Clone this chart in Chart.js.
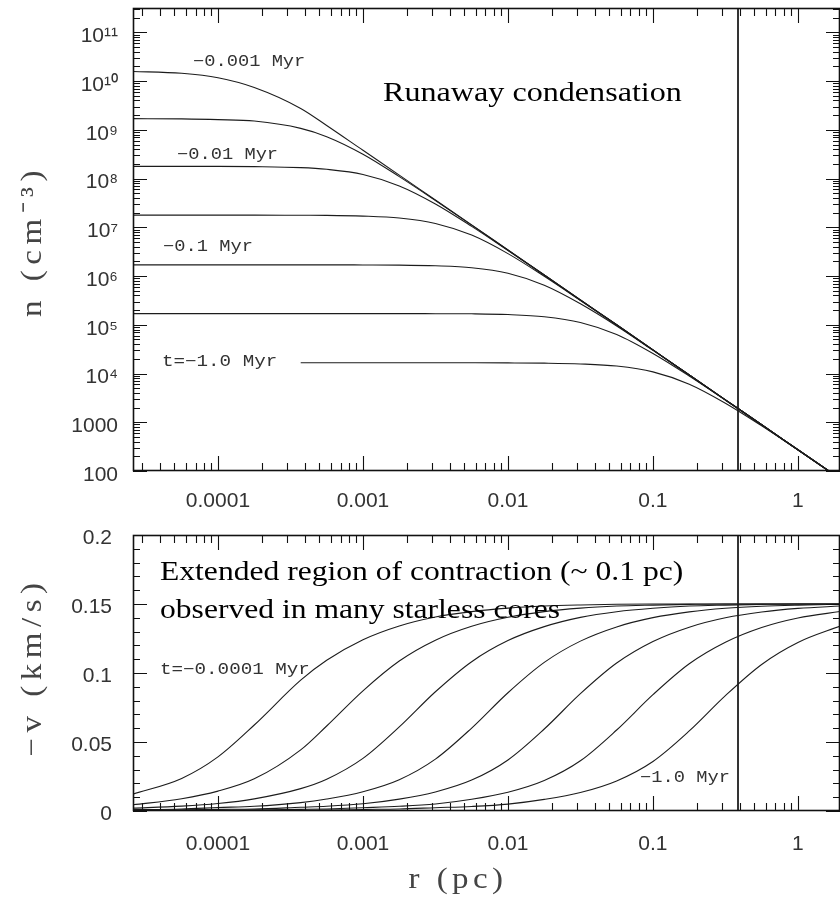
<!DOCTYPE html>
<html>
<head>
<meta charset="utf-8">
<script src="https://cdn.jsdelivr.net/npm/chart.js@4.4.1/dist/chart.umd.min.js"></script>
<style>
  html, body { margin: 0; padding: 0; background: #fff; }
  #wrap { position: relative; width: 840px; height: 900px; }
  #densityChart { position: absolute; left: 0; top: 0; }
  #velocityChart { position: absolute; left: 0; top: 520px; }
</style>
</head>
<body>
<div id="wrap">
  <canvas id="densityChart" width="840" height="520"></canvas>
  <canvas id="velocityChart" width="840" height="380"></canvas>
</div>
<script>
// Radial sample points (pc), shared by every profile
const radius = [2.51e-5, 5.62e-5, 1.0e-4, 1.78e-4, 3.72e-4, 5.62e-4, 1.0e-3, 1.78e-3, 3.16e-3, 5.62e-3,
                0.01, 0.0178, 0.0316, 0.0562, 0.1, 0.178, 0.316, 0.562, 1.0, 2.0];

// log10 of number density n (cm^-3), one profile per epoch (latest first)
const logDensity1 = [10.20, 10.16, 10.07, 9.87, 9.44, 9.09, 8.58, 8.07, 7.56, 7.05, 6.535, 6.02, 5.51, 5.00, 4.485, 3.97, 3.46, 2.95, 2.435, 1.82];
const logDensity2 = [9.23, 9.225, 9.21, 9.18, 9.03, 8.86, 8.50, 8.04, 7.55, 7.045, 6.535, 6.02, 5.51, 5.00, 4.485, 3.97, 3.46, 2.95, 2.435, 1.82];
const logDensity3 = [8.25, 8.25, 8.25, 8.245, 8.225, 8.19, 8.085, 7.85, 7.48, 7.02, 6.525, 6.02, 5.51, 5.00, 4.485, 3.97, 3.46, 2.95, 2.435, 1.82];
const logDensity4 = [7.25, 7.25, 7.25, 7.25, 7.247, 7.245, 7.23, 7.19, 7.08, 6.84, 6.46, 5.995, 5.50, 4.995, 4.485, 3.97, 3.46, 2.95, 2.435, 1.82];
const logDensity5 = [6.23, 6.23, 6.23, 6.23, 6.23, 6.23, 6.228, 6.225, 6.21, 6.17, 6.056, 5.81, 5.43, 4.975, 4.477, 3.97, 3.46, 2.95, 2.435, 1.82];
const logDensity6 = [5.23, 5.23, 5.23, 5.23, 5.23, 5.23, 5.23, 5.23, 5.228, 5.225, 5.21, 5.165, 5.047, 4.80, 4.41, 3.947, 3.453, 2.948, 2.435, 1.82];
const logDensity7 = [null, null, null, null, 4.22, 4.22, 4.22, 4.22, 4.22, 4.22, 4.218, 4.213, 4.197, 4.153, 4.034, 3.78, 3.39, 2.926, 2.43, 1.82];

// Infall speed -v (km/s), one profile per epoch (t = -0.0001 Myr first, -1.0 Myr last)
const velocity1 = [0.0118, 0.0236, 0.0392, 0.0623, 0.0948, 0.1092, 0.1241, 0.1341, 0.1406, 0.1445, 0.147, 0.1485, 0.1493, 0.1498, 0.15, 0.15, 0.15, 0.15, 0.15, 0.15];
const velocity2 = [0.0043, 0.0089, 0.0144, 0.0233, 0.0443, 0.0616, 0.0871, 0.1087, 0.1238, 0.1339, 0.1404, 0.1445, 0.147, 0.1485, 0.1492, 0.1497, 0.15, 0.15, 0.15, 0.15];
const velocity3 = [0.002, 0.0035, 0.0054, 0.0088, 0.0162, 0.023, 0.0381, 0.0609, 0.0864, 0.1082, 0.1235, 0.1336, 0.1403, 0.1444, 0.1469, 0.1485, 0.1492, 0.1497, 0.15, 0.15];
const velocity4 = [0.001, 0.0015, 0.0025, 0.0034, 0.0061, 0.0087, 0.014, 0.0227, 0.0376, 0.0601, 0.0857, 0.1077, 0.1231, 0.1334, 0.1401, 0.1443, 0.1469, 0.1484, 0.1492, 0.1498];
const velocity5 = [0.0005, 0.0008, 0.0012, 0.0015, 0.0027, 0.0034, 0.0052, 0.0086, 0.0138, 0.0224, 0.037, 0.0594, 0.085, 0.1072, 0.1228, 0.1332, 0.14, 0.1442, 0.1468, 0.1486];
const velocity6 = [0.0003, 0.0004, 0.0005, 0.0008, 0.0012, 0.0015, 0.0024, 0.0034, 0.0051, 0.0085, 0.0136, 0.0221, 0.0364, 0.0587, 0.0843, 0.1067, 0.1223, 0.133, 0.1399, 0.1447];
const velocity7 = [0.0002, 0.0002, 0.0003, 0.0003, 0.0005, 0.0006, 0.0011, 0.0015, 0.0024, 0.0033, 0.005, 0.0084, 0.0134, 0.0218, 0.0359, 0.058, 0.0836, 0.1062, 0.1221, 0.1344];

// Outer boundary of the core (pc)
const coreRadius = 0.386;

// Axis ranges and tick labels
const rangeR = [2.594e-5, 1.95];
const rangeN = [100, 3.162e11];
const rangeV = [0, 0.2];
const radiusTicks = [1e-4, 1e-3, 1e-2, 0.1, 1];
const radiusTickLabels = ['0.0001', '0.001', '0.01', '0.1', '1'];
const densityTicks = [1e2, 1e3, 1e4, 1e5, 1e6, 1e7, 1e8, 1e9, 1e10, 1e11];
const densityTickLabels = ['100', '1000', '10\u2074', '10\u2075', '10\u2076', '10\u2077', '10\u2078', '10\u2079', '10\u00B9\u2070', '10\u00B9\u00B9'];
const velocityTicks = [0, 0.05, 0.1, 0.15, 0.2];
const velocityTickLabels = ['0', '0.05', '0.1', '0.15', '0.2'];

// Minor tick positions
const radiusMinor = [];
for (let e = -5; e <= 0; e++) for (let k = 2; k <= 9; k++) radiusMinor.push(k * Math.pow(10, e));
const densityMinor = [];
for (let e = 2; e <= 11; e++) for (let k = 2; k <= 9; k++) densityMinor.push(k * Math.pow(10, e));
const velocityMinor = [];
for (let i = 1; i < 20; i++) if (i % 5) velocityMinor.push(i / 100);

const INK = '#1c1c1c';
const TICK_FONT = { family: '"Liberation Sans", Arial, sans-serif', size: 21 };
const MONO = '16px "Liberation Mono", "DejaVu Sans Mono", monospace';
const SERIF = '27px "Liberation Serif", "Times New Roman", serif';
const TITLE = '30px "Liberation Serif", "Times New Roman", serif';

function profile(values, toY) {
  return radius.map((r, i) => ({ x: r, y: values[i] === null ? null : toY(values[i]) }));
}
function curve(points) {
  return { data: points, borderColor: INK, borderWidth: 1.1, pointRadius: 0,
           cubicInterpolationMode: 'monotone', spanGaps: false };
}

// Frame, inward tick marks on all four sides, and text annotations
const decorations = {
  id: 'decorations',
  afterDraw(chart, args, opts) {
    const { ctx, chartArea: a } = chart;
    const xs = chart.scales.x, ys = chart.scales.y;
    ctx.save();
    ctx.strokeStyle = '#111';
    ctx.lineWidth = 1.1;
    ctx.beginPath();
    const tickX = (v, len) => {
      const p = Math.round(xs.getPixelForValue(v)) + 0.5;
      if (p < a.left || p > a.right) return;
      ctx.moveTo(p, a.bottom); ctx.lineTo(p, a.bottom - len);
      ctx.moveTo(p, a.top); ctx.lineTo(p, a.top + len);
    };
    const tickY = (v, len) => {
      const p = Math.round(ys.getPixelForValue(v)) + 0.5;
      if (p < a.top - 0.5 || p > a.bottom + 0.5) return;
      ctx.moveTo(a.left, p); ctx.lineTo(a.left + len, p);
      ctx.moveTo(a.right, p); ctx.lineTo(a.right - len, p);
    };
    opts.xMajor.forEach(v => tickX(v, 15));
    opts.xMinor.forEach(v => tickX(v, 8));
    opts.yMajor.forEach(v => tickY(v, 14));
    opts.yMinor.forEach(v => tickY(v, 7));
    ctx.stroke();
    ctx.lineWidth = 1.6;
    ctx.strokeRect(a.left + 0.5, a.top + 0.5, a.right - a.left - 1, a.bottom - a.top - 1);
    (opts.texts || []).forEach(t => {
      ctx.save();
      ctx.font = t.font;
      ctx.fillStyle = t.color || '#000';
      ctx.textAlign = t.align || 'left';
      ctx.textBaseline = t.baseline || 'alphabetic';
      if ('letterSpacing' in ctx) ctx.letterSpacing = (t.spacing || 0) + 'px';
      ctx.translate(t.x, t.y);
      if (t.rotate) ctx.rotate(t.rotate);
      ctx.scale(t.sx || 1, 1);
      ctx.fillText(t.text, 0, 0);
      ctx.restore();
    });
    ctx.restore();
  }
};

function radiusAxis(pad) {
  return {
    type: 'logarithmic', min: rangeR[0], max: rangeR[1],
    grid: { display: false, drawTicks: false }, border: { display: false },
    afterBuildTicks: s => { s.ticks = radiusTicks.map(v => ({ value: v })); },
    ticks: { autoSkip: false, maxRotation: 0, padding: pad, color: '#333', font: TICK_FONT,
             callback: (v, i) => radiusTickLabels[i] }
  };
}

// Upper panel: density profiles
const densitySets = [logDensity1, logDensity2, logDensity3, logDensity4, logDensity5, logDensity6, logDensity7]
  .map(v => curve(profile(v, y => Math.pow(10, y))));
densitySets.push({ data: [{ x: coreRadius, y: rangeN[0] }, { x: coreRadius, y: rangeN[1] }],
                   borderColor: '#000', borderWidth: 1.6, pointRadius: 0 });

const xTop = radiusAxis(18);
xTop.afterFit = s => { s.height = 49; s.paddingLeft = 0; s.paddingRight = 0; };

new Chart(document.getElementById('densityChart'), {
  type: 'line',
  data: { datasets: densitySets },
  options: {
    responsive: false, animation: false, events: [],
    layout: { padding: { top: 8, right: 0, left: 0, bottom: 0 } },
    plugins: {
      legend: { display: false }, tooltip: { enabled: false },
      decorations: {
        xMajor: radiusTicks, xMinor: radiusMinor, yMajor: densityTicks, yMinor: densityMinor,
        texts: [
          { text: '\u22120.001 Myr', x: 193, y: 62, font: MONO, sx: 1.17, color: '#333', baseline: 'middle' },
          { text: '\u22120.01 Myr', x: 177, y: 155, font: MONO, sx: 1.17, color: '#333', baseline: 'middle' },
          { text: '\u22120.1 Myr', x: 163, y: 247, font: MONO, sx: 1.17, color: '#333', baseline: 'middle' },
          { text: 't=\u22121.0 Myr', x: 162, y: 362, font: MONO, sx: 1.2, color: '#333', baseline: 'middle' },
          { text: 'Runaway condensation', x: 383, y: 101, font: SERIF, sx: 1.19 },
          { text: 'n (cm\u207B\u00B3)', x: 33, y: 241, font: TITLE, sx: 1.1, color: '#444', spacing: 5,
            align: 'center', baseline: 'middle', rotate: -Math.PI / 2 }
        ]
      }
    },
    scales: {
      x: xTop,
      y: {
        type: 'logarithmic', min: rangeN[0], max: rangeN[1],
        grid: { display: false, drawTicks: false }, border: { display: false },
        afterBuildTicks: s => { s.ticks = densityTicks.map(v => ({ value: v })); },
        afterFit: s => { s.width = 133; s.paddingTop = 0; s.paddingBottom = 0; },
        ticks: { autoSkip: false, padding: 15, labelOffset: 4, color: '#333', font: TICK_FONT,
                 callback: (v, i) => densityTickLabels[i] }
      }
    }
  },
  plugins: [decorations]
});

// Lower panel: infall velocity profiles
const velocitySets = [velocity1, velocity2, velocity3, velocity4, velocity5, velocity6, velocity7]
  .map(v => curve(profile(v, y => y)));
velocitySets.push({ data: [{ x: coreRadius, y: rangeV[0] }, { x: coreRadius, y: rangeV[1] }],
                    borderColor: '#000', borderWidth: 1.6, pointRadius: 0 });

const xBottom = radiusAxis(21);
xBottom.afterFit = s => { s.height = 89; s.paddingLeft = 0; s.paddingRight = 0; };

new Chart(document.getElementById('velocityChart'), {
  type: 'line',
  data: { datasets: velocitySets },
  options: {
    responsive: false, animation: false, events: [],
    layout: { padding: { top: 15, right: 0, left: 0, bottom: 0 } },
    plugins: {
      legend: { display: false }, tooltip: { enabled: false },
      decorations: {
        xMajor: radiusTicks, xMinor: radiusMinor, yMajor: velocityTicks, yMinor: velocityMinor,
        texts: [
          { text: 'Extended region of contraction (~ 0.1 pc)', x: 160, y: 60, font: SERIF, sx: 1.17 },
          { text: 'observed in many starless cores', x: 160, y: 98, font: SERIF, sx: 1.17 },
          { text: 't=\u22120.0001 Myr', x: 160, y: 150, font: MONO, sx: 1.2, color: '#333', baseline: 'middle' },
          { text: '\u22121.0 Myr', x: 640, y: 258, font: MONO, sx: 1.17, color: '#333', baseline: 'middle' },
          { text: 'r (pc)', x: 458, y: 360, font: TITLE, sx: 1.1, color: '#444', spacing: 4,
            align: 'center', baseline: 'middle' },
          { text: '\u2212v (km/s)', x: 33, y: 147, font: TITLE, sx: 1.1, color: '#444', spacing: 5,
            align: 'center', baseline: 'middle', rotate: -Math.PI / 2 }
        ]
      }
    },
    scales: {
      x: xBottom,
      y: {
        type: 'linear', min: rangeV[0], max: rangeV[1],
        grid: { display: false, drawTicks: false }, border: { display: false },
        afterBuildTicks: s => { s.ticks = velocityTicks.map(v => ({ value: v })); },
        afterFit: s => { s.width = 133; s.paddingTop = 0; s.paddingBottom = 0; },
        ticks: { autoSkip: false, padding: 21, labelOffset: 3, color: '#333', font: TICK_FONT,
                 callback: (v, i) => velocityTickLabels[i] }
      }
    }
  },
  plugins: [decorations]
});
</script>
</body>
</html>
